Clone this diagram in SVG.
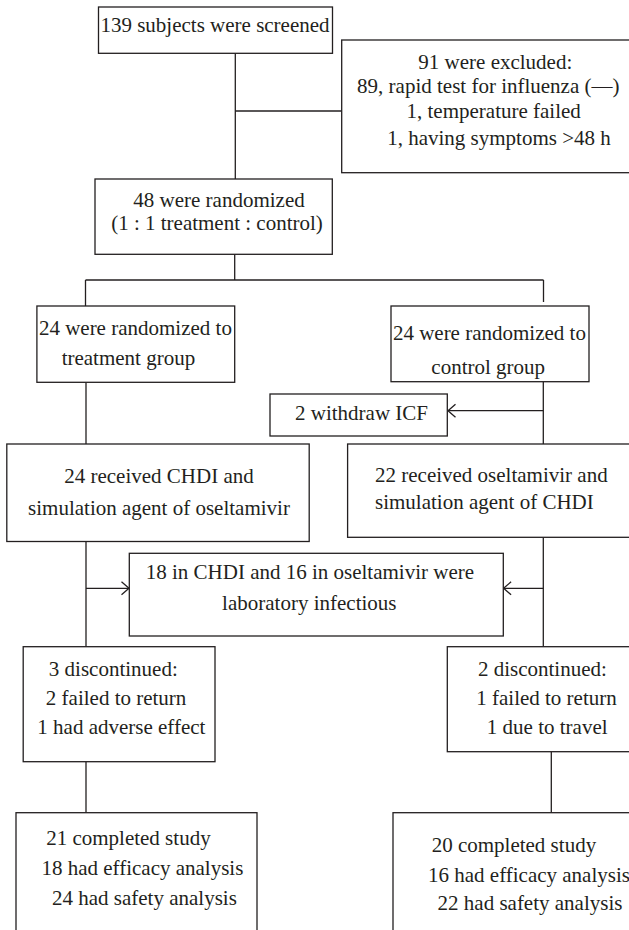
<svg xmlns="http://www.w3.org/2000/svg" width="629" height="930" viewBox="0 0 629 930">
<style>
.box{fill:#fff;stroke:#231f20;stroke-width:1.3}
.t{font-family:"Liberation Serif","Times New Roman",serif;font-size:21px;fill:#231f20;text-anchor:middle}
.s{text-anchor:start}
.ln{fill:none;stroke:#231f20;stroke-width:1.3}
</style>
<defs>
<marker id="arr" markerWidth="12" markerHeight="16" refX="10" refY="8" orient="auto" markerUnits="userSpaceOnUse" viewBox="0 0 12 16">
<path d="M2.5,1.5 L10,8 L2.5,14.5" fill="none" stroke="#231f20" stroke-width="1.3"/>
</marker>
</defs>
<rect width="629" height="930" fill="#fff"/>
<g id="connectors">
<path class="ln" d="M235.3,53.3 V179"/>
<path class="ln" d="M235.3,111 H341.7"/>
<path class="ln" d="M234.7,254.3 V280"/>
<path class="ln" d="M85.5,280 H543.5"/>
<path class="ln" d="M85.5,280 V306"/>
<path class="ln" d="M543.5,280 V302"/>
<path class="ln" d="M86,382.3 V444"/>
<path class="ln" d="M543.3,381.7 V444"/>
<path class="ln" d="M543.3,410.7 H448" marker-end="url(#arr)"/>
<path class="ln" d="M86,541.5 V646.7"/>
<path class="ln" d="M86,588.3 H129" marker-end="url(#arr)"/>
<path class="ln" d="M543.3,537.3 V646.7"/>
<path class="ln" d="M543.3,588.3 H503.6" marker-end="url(#arr)"/>
<path class="ln" d="M86,761.7 V812.7"/>
<path class="ln" d="M551.3,751.7 V812.7"/>
</g>
<g id="screened">
<rect class="box" x="98.5" y="7" width="234" height="46.3"/>
<text class="t" x="215" y="32.3">139 subjects were screened</text>
</g>
<g id="excluded">
<rect class="box" x="341.7" y="40" width="300" height="132.7"/>
<text class="t" x="495.3" y="69">91 were excluded:</text>
<text class="t" x="488.3" y="93.3">89, rapid test for influenza (—)</text>
<text class="t" x="493.7" y="118.3">1, temperature failed</text>
<text class="t" x="499" y="145">1, having symptoms &gt;48 h</text>
</g>
<g id="randomized">
<rect class="box" x="95" y="179" width="237.3" height="75.3"/>
<text class="t" x="219" y="206.7">48 were randomized</text>
<text class="t" x="217" y="230">(1 : 1 treatment : control)</text>
</g>
<g id="treatment-group">
<rect class="box" x="36.9" y="306" width="197.8" height="76.3"/>
<text class="t" x="135.4" y="335">24 were randomized to</text>
<text class="t" x="128.4" y="365">treatment group</text>
</g>
<g id="control-group">
<rect class="box" x="391" y="306" width="198" height="75.7"/>
<text class="t" x="489.4" y="340">24 were randomized to</text>
<text class="t" x="488.2" y="373.5">control group</text>
</g>
<g id="withdraw">
<rect class="box" x="270" y="394" width="177.3" height="42"/>
<text class="t" x="361.5" y="420">2 withdraw ICF</text>
</g>
<g id="received-chdi">
<rect class="box" x="6.8" y="444" width="302.4" height="97.5"/>
<text class="t" x="159" y="482.7">24 received CHDI and</text>
<text class="t" x="159" y="515">simulation agent of oseltamivir</text>
</g>
<g id="received-oseltamivir">
<rect class="box" x="347.6" y="444" width="300" height="93.3"/>
<text class="t s" x="375" y="482">22 received oseltamivir and</text>
<text class="t s" x="375" y="509">simulation agent of CHDI</text>
</g>
<g id="infectious">
<rect class="box" x="129.3" y="553.3" width="374" height="82.7"/>
<text class="t" x="309.9" y="579.3">18 in CHDI and 16 in oseltamivir were</text>
<text class="t" x="309.3" y="610">laboratory infectious</text>
</g>
<g id="discontinued-left">
<rect class="box" x="23.2" y="646.7" width="191.8" height="115"/>
<text class="t" x="113.3" y="676">3 discontinued:</text>
<text class="t" x="116.1" y="705">2 failed to return</text>
<text class="t" x="121.4" y="734.3">1 had adverse effect</text>
</g>
<g id="discontinued-right">
<rect class="box" x="447.3" y="646.7" width="200" height="105"/>
<text class="t" x="542.4" y="676">2 discontinued:</text>
<text class="t" x="546.5" y="705">1 failed to return</text>
<text class="t" x="547.2" y="734">1 due to travel</text>
</g>
<g id="completed-left">
<rect class="box" x="16" y="812.7" width="241" height="150"/>
<text class="t" x="128.4" y="845">21 completed study</text>
<text class="t" x="142.4" y="875">18 had efficacy analysis</text>
<text class="t" x="144.4" y="905">24 had safety analysis</text>
</g>
<g id="completed-right">
<rect class="box" x="393" y="812.7" width="260" height="150"/>
<text class="t" x="513.9" y="851.7">20 completed study</text>
<text class="t s" x="428" y="881.7">16 had efficacy analysis</text>
<text class="t" x="530" y="910">22 had safety analysis</text>
</g>
</svg>
